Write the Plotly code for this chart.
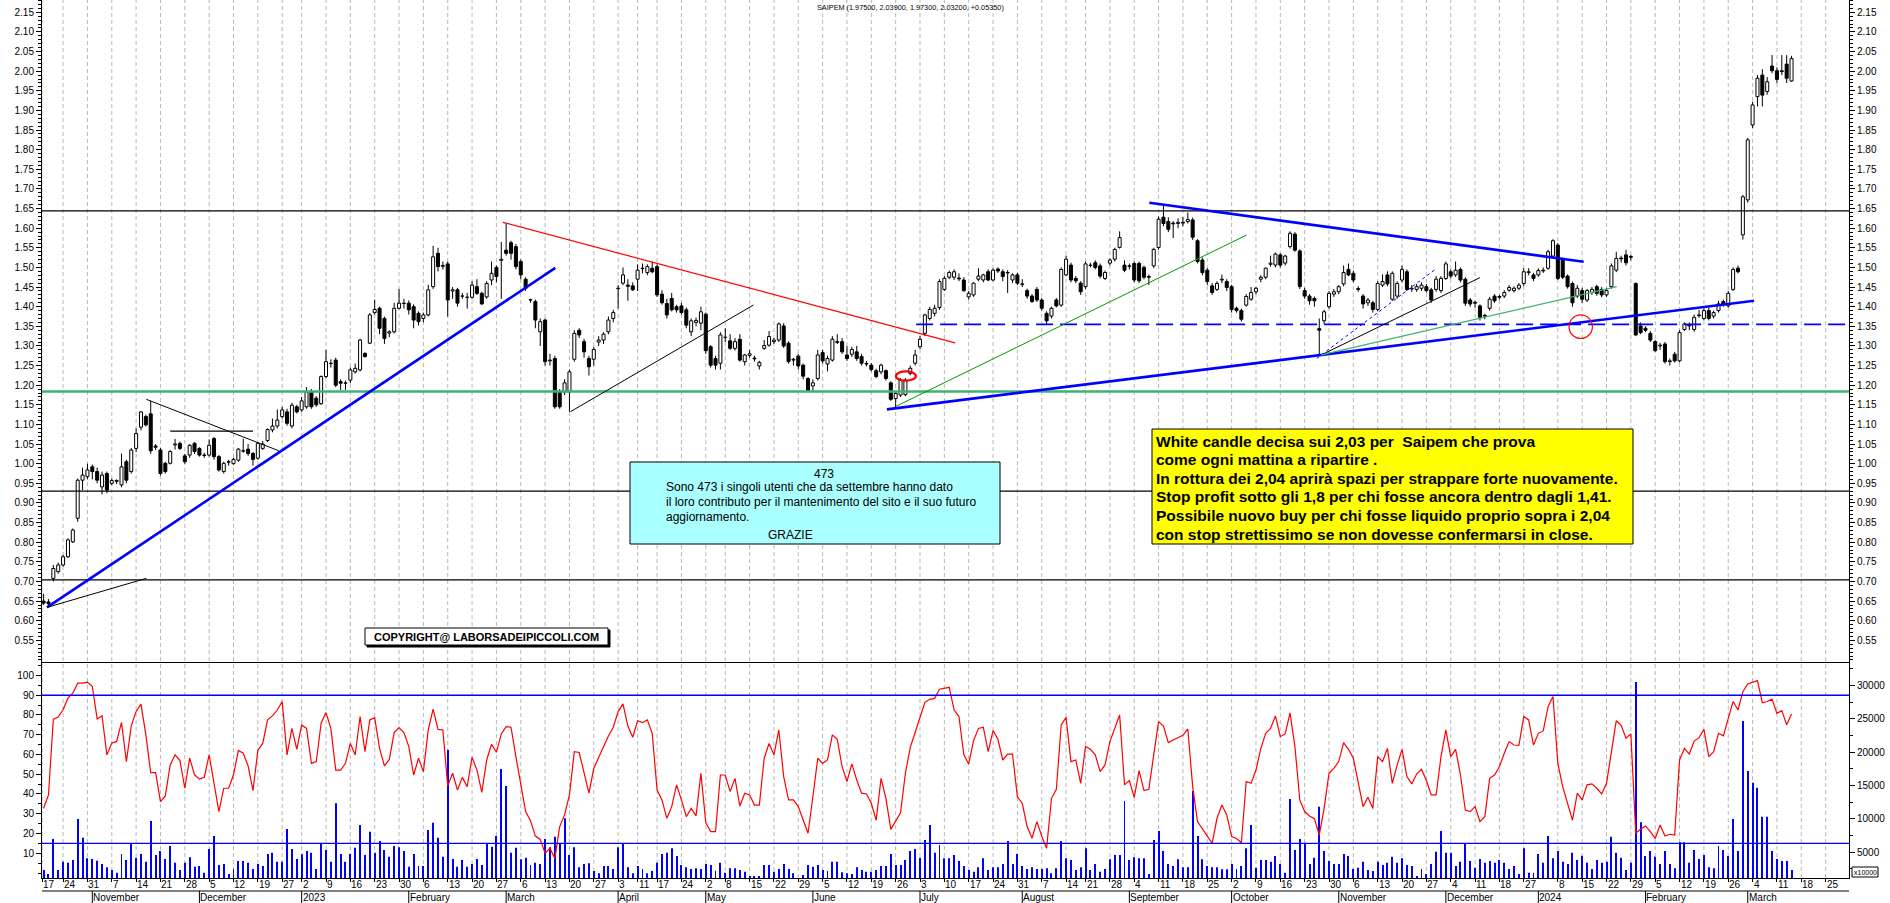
import pandas as pd
import plotly.graph_objects as go

TITLE = "SAIPEM (1.97500, 2.03900, 1.97300, 2.03200, +0.05350)"

OPEN = [
0.650,0.648,0.708,0.725,0.742,0.763,0.801,0.861,0.958,0.967,
0.992,0.980,0.941,0.975,0.950,0.957,0.946,1.005,0.980,1.039,
1.093,1.120,1.127,1.045,1.035,1.001,1.001,1.048,1.052,1.020,
1.022,1.052,1.039,1.022,1.022,1.064,1.018,0.980,1.005,1.000,
1.009,1.033,1.037,1.026,1.014,1.039,1.059,1.086,1.096,1.120,
1.132,1.096,1.145,1.137,1.145,1.183,1.167,1.153,1.222,1.255,
1.264,1.209,1.205,1.213,1.234,1.239,1.281,1.307,1.385,1.396,
1.370,1.333,1.336,1.396,1.409,1.409,1.400,1.383,1.370,1.379,
1.451,1.536,1.505,1.509,1.440,1.443,1.427,1.424,1.424,1.451,
1.434,1.425,1.468,1.500,1.518,1.544,1.563,1.553,1.515,1.470,
1.418,1.413,1.336,1.366,1.262,1.268,1.183,1.183,1.183,1.266,
1.340,1.311,1.268,1.266,1.310,1.315,1.336,1.370,1.446,1.460,
1.455,1.453,1.470,1.497,1.487,1.498,1.502,1.432,1.408,1.421,
1.400,1.402,1.392,1.336,1.360,1.358,1.381,1.298,1.268,1.256,
1.322,1.313,1.294,1.317,1.260,1.276,1.269,1.249,1.294,1.302,
1.311,1.315,1.351,1.307,1.266,1.274,1.251,1.217,1.198,1.217,
1.283,1.254,1.264,1.311,1.311,1.277,1.279,1.285,1.273,1.255,
1.251,1.237,1.234,1.237,1.206,1.166,1.175,1.176,1.230,1.256,
1.298,1.332,1.370,1.383,1.398,1.444,1.475,1.475,1.473,1.468,
1.425,1.430,1.470,1.468,1.489,1.468,1.496,1.489,1.487,1.468,
1.481,1.458,1.441,1.427,1.444,1.417,1.383,1.376,1.417,1.404,
1.481,1.506,1.472,1.460,1.451,1.505,1.512,1.504,1.472,1.511,
1.521,1.551,1.506,1.503,1.510,1.510,1.500,1.477,1.504,1.551,
1.628,1.617,1.613,1.612,1.613,1.617,1.621,1.568,1.519,1.493,
1.453,1.444,1.468,1.464,1.451,1.396,1.390,1.404,1.419,1.438,
1.470,1.475,1.508,1.506,1.532,1.511,1.553,1.585,1.542,1.441,
1.427,1.421,1.344,1.364,1.400,1.432,1.438,1.458,1.495,1.485,
1.446,1.427,1.410,1.410,1.393,1.455,1.481,1.419,1.427,1.468,
1.489,1.445,1.444,1.447,1.451,1.443,1.444,1.441,1.472,1.489,
1.481,1.495,1.470,1.417,1.411,1.402,1.378,1.396,1.427,1.426,
1.427,1.442,1.441,1.447,1.459,1.487,1.481,1.481,1.491,1.498,
1.529,1.557,1.519,1.478,1.459,1.427,1.441,1.417,1.436,1.451,
1.444,1.430,1.451,1.493,1.524,1.532,1.528,1.459,1.351,1.345,
1.332,1.311,1.300,1.305,1.262,1.279,1.262,1.342,1.351,1.342,
1.377,1.370,1.390,1.376,1.390,1.413,1.402,1.444,1.498,1.583,
1.672,1.863,1.935,1.990,1.948,2.013,2.001,2.001,2.018,1.975]

HIGH = [
0.668,0.655,0.742,0.748,0.768,0.810,0.835,0.962,0.990,1.000,
0.998,0.990,0.980,0.980,0.962,0.960,1.026,1.010,1.040,1.090,
1.134,1.125,1.160,1.050,1.040,1.005,1.035,1.063,1.056,1.025,
1.050,1.055,1.042,1.028,1.062,1.068,1.022,1.005,1.010,1.015,
1.040,1.064,1.050,1.030,1.055,1.058,1.090,1.115,1.138,1.145,
1.140,1.155,1.150,1.170,1.195,1.190,1.172,1.225,1.290,1.266,
1.270,1.215,1.212,1.245,1.255,1.318,1.284,1.384,1.418,1.400,
1.375,1.340,1.410,1.445,1.420,1.416,1.406,1.388,1.385,1.456,
1.555,1.550,1.515,1.515,1.450,1.448,1.435,1.435,1.465,1.470,
1.438,1.465,1.515,1.505,1.565,1.612,1.568,1.560,1.520,1.475,
1.420,1.418,1.370,1.370,1.280,1.275,1.190,1.215,1.240,1.340,
1.345,1.318,1.275,1.298,1.325,1.335,1.375,1.392,1.455,1.500,
1.470,1.462,1.508,1.510,1.508,1.515,1.508,1.442,1.420,1.435,
1.405,1.410,1.398,1.370,1.372,1.400,1.385,1.302,1.275,1.335,
1.345,1.330,1.320,1.330,1.280,1.290,1.275,1.262,1.315,1.338,
1.320,1.360,1.358,1.312,1.270,1.280,1.255,1.220,1.215,1.290,
1.290,1.275,1.325,1.330,1.320,1.300,1.298,1.300,1.280,1.262,
1.256,1.242,1.255,1.240,1.210,1.185,1.218,1.218,1.250,1.290,
1.325,1.382,1.400,1.405,1.470,1.478,1.492,1.495,1.485,1.475,
1.440,1.462,1.498,1.484,1.495,1.498,1.500,1.495,1.493,1.485,
1.486,1.470,1.446,1.432,1.450,1.422,1.388,1.400,1.422,1.500,
1.530,1.512,1.478,1.465,1.515,1.512,1.518,1.510,1.492,1.523,
1.550,1.592,1.518,1.510,1.515,1.515,1.505,1.482,1.550,1.630,
1.659,1.628,1.618,1.625,1.628,1.640,1.627,1.572,1.525,1.498,
1.460,1.465,1.482,1.470,1.456,1.400,1.395,1.432,1.450,1.450,
1.480,1.500,1.530,1.538,1.536,1.532,1.592,1.590,1.546,1.448,
1.432,1.426,1.370,1.392,1.440,1.445,1.455,1.505,1.510,1.492,
1.452,1.432,1.422,1.415,1.465,1.482,1.490,1.490,1.465,1.505,
1.495,1.455,1.458,1.462,1.458,1.448,1.478,1.478,1.515,1.495,
1.515,1.500,1.475,1.422,1.415,1.406,1.382,1.425,1.432,1.430,
1.442,1.455,1.452,1.460,1.498,1.498,1.486,1.498,1.500,1.545,
1.572,1.562,1.525,1.482,1.464,1.455,1.448,1.445,1.450,1.456,
1.450,1.448,1.510,1.540,1.530,1.545,1.532,1.462,1.360,1.350,
1.338,1.315,1.308,1.310,1.268,1.285,1.340,1.360,1.360,1.380,
1.392,1.395,1.398,1.390,1.415,1.418,1.440,1.500,1.505,1.685,
1.830,1.922,1.990,2.005,1.985,2.041,2.010,2.041,2.041,2.039]

LOW = [
0.640,0.637,0.700,0.720,0.738,0.760,0.798,0.852,0.932,0.960,
0.960,0.950,0.922,0.925,0.945,0.948,0.940,0.950,0.975,1.030,
1.085,1.095,1.025,1.035,0.970,0.975,0.998,1.036,1.035,1.000,
1.015,1.025,1.018,1.015,1.018,1.010,0.980,0.975,0.995,0.998,
1.005,1.028,1.020,0.995,1.010,1.035,1.055,1.080,1.090,1.115,
1.097,1.090,1.128,1.132,1.140,1.140,1.145,1.150,1.218,1.245,
1.195,1.188,1.188,1.205,1.230,1.235,1.270,1.305,1.380,1.330,
1.305,1.322,1.332,1.393,1.395,1.380,1.345,1.352,1.360,1.375,
1.445,1.490,1.495,1.375,1.420,1.400,1.420,1.395,1.420,1.430,
1.405,1.420,1.455,1.462,1.420,1.530,1.520,1.495,1.470,1.440,
1.410,1.345,1.300,1.250,1.250,1.140,1.140,1.175,1.132,1.260,
1.320,1.270,1.225,1.250,1.300,1.305,1.330,1.360,1.395,1.455,
1.415,1.440,1.440,1.485,1.480,1.485,1.425,1.405,1.370,1.388,
1.385,1.380,1.345,1.325,1.350,1.340,1.280,1.245,1.240,1.240,
1.310,1.290,1.288,1.260,1.250,1.270,1.260,1.240,1.290,1.298,
1.305,1.310,1.295,1.255,1.250,1.240,1.215,1.185,1.185,1.212,
1.255,1.235,1.260,1.305,1.280,1.262,1.272,1.262,1.250,1.248,
1.235,1.218,1.228,1.212,1.160,1.140,1.170,1.172,1.225,1.250,
1.292,1.325,1.365,1.375,1.392,1.440,1.470,1.468,1.465,1.438,
1.418,1.425,1.465,1.462,1.465,1.465,1.486,1.465,1.435,1.460,
1.455,1.450,1.420,1.410,1.412,1.390,1.355,1.370,1.398,1.400,
1.478,1.462,1.460,1.430,1.445,1.500,1.495,1.472,1.468,1.505,
1.515,1.548,1.488,1.495,1.462,1.460,1.470,1.455,1.498,1.545,
1.605,1.590,1.575,1.600,1.605,1.612,1.570,1.510,1.480,1.455,
1.430,1.440,1.460,1.440,1.385,1.385,1.362,1.400,1.415,1.432,
1.462,1.470,1.502,1.500,1.500,1.505,1.548,1.540,1.445,1.420,
1.405,1.400,1.277,1.355,1.395,1.425,1.432,1.452,1.478,1.462,
1.438,1.395,1.402,1.385,1.388,1.450,1.452,1.415,1.420,1.462,
1.440,1.438,1.438,1.440,1.436,1.410,1.438,1.435,1.468,1.472,
1.476,1.462,1.402,1.400,1.398,1.365,1.368,1.390,1.410,1.418,
1.422,1.438,1.436,1.442,1.452,1.480,1.465,1.476,1.486,1.494,
1.525,1.468,1.470,1.446,1.400,1.422,1.410,1.412,1.430,1.428,
1.424,1.425,1.446,1.488,1.512,1.505,1.518,1.325,1.330,1.335,
1.310,1.285,1.290,1.255,1.250,1.258,1.258,1.338,1.340,1.336,
1.372,1.365,1.365,1.370,1.385,1.400,1.398,1.440,1.485,1.571,
1.665,1.855,1.910,1.910,1.940,1.995,1.970,1.990,1.970,1.973]

CLOSE = [
0.645,0.643,0.733,0.742,0.763,0.806,0.831,0.958,0.971,0.984,
0.980,0.958,0.971,0.933,0.957,0.955,0.992,0.958,1.035,1.077,
1.132,1.099,1.033,1.042,0.975,0.980,1.031,1.050,1.039,1.005,
1.047,1.031,1.022,1.021,1.047,1.018,0.984,1.001,1.004,1.011,
1.037,1.032,1.026,1.011,1.052,1.050,1.087,1.096,1.111,1.137,
1.103,1.149,1.132,1.160,1.183,1.145,1.150,1.222,1.260,1.256,
1.200,1.205,1.206,1.239,1.243,1.315,1.273,1.379,1.393,1.345,
1.319,1.336,1.396,1.409,1.408,1.392,1.366,1.362,1.379,1.443,
1.527,1.502,1.503,1.417,1.443,1.409,1.427,1.424,1.455,1.434,
1.407,1.459,1.485,1.477,1.521,1.536,1.536,1.502,1.481,1.447,
1.417,1.366,1.362,1.260,1.264,1.145,1.145,1.206,1.234,1.332,
1.328,1.285,1.247,1.291,1.315,1.330,1.366,1.385,1.447,1.481,
1.452,1.443,1.493,1.498,1.502,1.489,1.430,1.410,1.379,1.392,
1.392,1.385,1.353,1.364,1.365,1.387,1.288,1.251,1.251,1.328,
1.322,1.294,1.311,1.264,1.277,1.280,1.267,1.258,1.301,1.324,
1.315,1.356,1.300,1.260,1.264,1.249,1.223,1.186,1.206,1.277,
1.262,1.268,1.317,1.309,1.285,1.268,1.291,1.268,1.256,1.254,
1.240,1.222,1.251,1.217,1.164,1.179,1.213,1.213,1.243,1.277,
1.317,1.379,1.393,1.396,1.464,1.472,1.487,1.489,1.471,1.441,
1.434,1.460,1.478,1.481,1.468,1.493,1.491,1.477,1.486,1.481,
1.460,1.457,1.427,1.413,1.417,1.396,1.364,1.396,1.402,1.495,
1.521,1.468,1.466,1.438,1.509,1.506,1.500,1.478,1.487,1.519,
1.546,1.576,1.493,1.504,1.468,1.466,1.475,1.475,1.546,1.623,
1.612,1.597,1.611,1.615,1.615,1.622,1.577,1.515,1.487,1.464,
1.436,1.459,1.470,1.449,1.393,1.390,1.368,1.426,1.436,1.447,
1.475,1.498,1.511,1.534,1.506,1.529,1.587,1.544,1.451,1.427,
1.415,1.415,1.340,1.387,1.434,1.438,1.451,1.487,1.481,1.468,
1.444,1.407,1.417,1.393,1.459,1.464,1.458,1.485,1.459,1.495,
1.444,1.447,1.451,1.455,1.441,1.417,1.470,1.472,1.509,1.478,
1.493,1.468,1.409,1.407,1.409,1.373,1.376,1.419,1.415,1.424,
1.436,1.449,1.447,1.455,1.489,1.489,1.472,1.492,1.493,1.540,
1.568,1.472,1.475,1.451,1.410,1.447,1.419,1.441,1.444,1.434,
1.430,1.441,1.504,1.523,1.522,1.512,1.526,1.328,1.334,1.340,
1.315,1.288,1.302,1.260,1.260,1.262,1.334,1.356,1.353,1.373,
1.379,1.390,1.370,1.385,1.407,1.407,1.434,1.495,1.489,1.680,
1.825,1.914,1.982,1.939,1.973,2.001,1.979,1.999,1.982,2.032]

OSC = [
32.8,39.5,77.9,78.9,82.6,88.5,91.0,96.1,96.1,96.6,
94.4,78.0,79.6,59.8,65.7,66.6,76.2,56.4,74.5,81.8,
85.5,69.9,50.8,50.8,36.1,39.0,54.7,59.8,56.9,42.9,
58.1,49.7,47.5,48.5,59.8,46.3,31.1,42.9,42.9,49.7,
62.0,60.6,54.2,41.7,62.0,65.6,77.5,79.5,82.5,86.8,
59.8,73.2,62.6,74.9,73.2,55.5,56.4,75.8,81.2,73.2,
52.1,52.1,55.5,65.6,59.8,79.2,61.4,77.5,78.6,63.1,
54.2,57.5,71.1,73.6,71.1,64.0,49.6,58.1,51.3,72.4,
82.9,72.7,72.4,44.1,50.5,42.0,48.4,43.7,58.6,52.1,
40.8,57.2,65.2,61.1,70.4,74.1,73.8,58.9,45.7,31.1,
26.5,18.7,17.0,10.0,12.5,7.4,23.5,29.4,39.5,61.4,
61.0,51.3,40.4,53.0,58.6,63.6,69.4,73.8,81.7,85.6,
74.4,68.7,77.1,76.1,77.5,70.7,42.0,37.0,27.7,33.6,
44.6,37.0,28.5,32.7,28.9,50.5,25.5,20.9,20.9,49.6,
49.6,41.2,47.9,33.9,40.4,39.5,34.4,34.4,58.1,65.6,
59.8,72.4,48.8,37.0,37.0,33.6,27.2,20.1,38.6,58.1,
55.5,57.2,69.9,67.7,53.8,46.3,55.2,47.1,40.4,40.0,
35.3,26.8,47.9,37.8,22.1,26.0,30.5,50.5,63.6,71.1,
78.8,86.4,87.9,88.4,93.0,93.5,94.0,82.5,79.2,59.8,
55.2,67.0,73.2,73.8,61.4,72.1,67.7,57.2,60.2,60.2,
38.6,35.3,23.5,17.6,26.0,18.7,12.5,37.8,42.4,74.9,
78.8,56.4,57.2,45.4,64.0,62.6,59.8,51.3,54.7,66.5,
73.2,80.0,44.6,46.8,38.3,51.8,41.7,42.4,59.8,76.6,
74.4,66.0,67.3,68.7,69.7,72.9,43.7,26.0,22.1,18.7,
15.0,27.7,34.4,29.4,18.4,17.5,15.3,46.3,45.4,52.1,
63.1,70.7,73.2,79.5,69.0,70.4,81.0,64.0,37.0,31.1,
28.9,27.5,19.2,32.7,50.5,53.0,56.4,66.0,62.6,58.1,
45.4,33.6,38.3,32.7,58.9,56.4,63.1,45.4,54.7,62.6,
48.8,45.1,50.1,52.5,46.8,39.5,39.5,58.9,72.4,58.9,
62.6,49.6,31.9,31.1,33.6,26.0,28.5,47.9,49.6,53.8,
60.6,66.5,64.8,64.6,79.2,77.5,64.8,70.7,71.9,84.2,
89.3,55.5,43.7,35.3,26.8,40.4,37.0,44.6,45.1,42.9,
40.0,45.4,61.4,77.1,74.8,68.2,70.4,20.1,22.1,23.8,
20.9,17.5,24.3,18.7,19.6,19.2,57.2,63.1,60.2,66.8,
68.5,72.7,58.9,61.4,70.7,69.4,78.3,86.8,82.5,91.8,
95.7,96.7,97.4,86.2,86.8,88.0,80.8,82.2,75.0,80.5]

VOLUME = [
2345,1745,6995,2345,3595,3445,3845,9995,7195,4095,
3995,3745,3245,2745,2345,1945,4745,3845,6345,4195,
4745,3595,9695,4595,5195,3995,5945,3445,2345,3445,
4245,2845,2945,1945,5495,7445,3095,3245,1745,2495,
3695,3695,3445,2495,3245,2945,4745,4945,3595,3595,
8495,5495,3995,4695,5195,4945,2495,6345,5345,3595,
12345,4745,3595,4745,5695,9095,4595,8095,4945,6695,
5345,4345,5945,5745,5195,2845,4745,2945,2945,8345,
9445,7195,4345,20345,3995,2845,3845,2845,3245,3995,
3095,6345,5845,7445,17495,14945,4945,5695,3945,4195,
3095,3445,3245,7000,5745,7345,6345,10095,4595,5745,
2745,3245,3345,2195,1845,2945,2945,2495,5745,6345,
2745,1845,2945,2495,1845,2195,3445,4745,4945,5595,
4445,3095,2745,2495,2595,2495,3245,3095,2245,3445,
1945,2595,2595,2345,2095,1445,1445,1445,3095,3095,
2095,2495,3245,2495,1845,845,1595,3095,2845,3095,
2345,2195,3595,3595,1995,1845,1745,2745,2345,2095,
2095,2345,2945,2945,4745,3095,3095,3845,5195,5495,
4195,6845,9095,4945,6095,4095,4095,4595,3695,2945,
2345,2095,2745,4095,2345,2745,2745,3245,6695,3245,
4745,2945,2495,2745,2495,2495,2595,1845,2595,6695,
4095,3845,2345,2745,5595,2345,3245,2095,2495,3945,
4595,4595,12695,3845,4245,4095,4095,1745,6845,8195,
5195,3245,2945,3945,2745,2745,14195,7445,3945,2945,
2745,2745,2445,2445,3245,2495,2945,5595,9095,2695,
3845,3845,3595,4445,3245,1945,12995,5345,6995,6345,
3245,4195,11845,5195,3695,3245,3245,4745,4445,2495,
2695,3595,2345,2195,3595,3095,3445,4345,3445,4095,
3095,2945,1445,2495,1745,3245,5095,8195,4945,4945,
2945,3595,6345,3695,2695,3995,3445,3695,3445,3845,
3445,2495,2945,1745,5595,1945,1945,4745,3445,7445,
4095,5195,3595,3245,4945,3845,4495,3445,2495,3845,
3445,3595,7345,4945,4195,2345,3445,30545,9495,4445,
5195,4345,3245,5195,3245,2595,6495,6495,3445,5345,
3995,4595,2745,2595,5945,5345,4445,9995,5195,24695,
17195,15445,14695,10345,10345,5195,3995,3695,3695,2345]

# calendar (Borsa Italiana closing days); the axis is indexed by trading day
HOLIDAYS = ["2022-12-26", "2023-04-07", "2023-04-10", "2023-05-01", "2023-08-15",
            "2023-12-25", "2023-12-26", "2024-01-01", "2024-03-29"]
CAL_START, CAL_END = "2022-10-17", "2024-03-28"

PRICE_LEVELS = [(1.644, "#000000", 1.2), (1.184, "#3CB371", 2.4), (0.930, "#000000", 1.2), (0.704, "#000000", 1.2)]
OSC_LEVELS = [90, 15]
# drawn trendlines: x0, y0, x1, y1, colour, width, dash
TRENDLINES = [
    (0.7, 0.634, 105.1, 1.499, "#0000FF", 2.6, "solid"),
    (0.7, 0.634, 21.1, 0.708, "#000000", 1, "solid"),
    (21.1, 1.164, 48.3, 1.033, "#000000", 1, "solid"),
    (26.0, 1.083, 43.0, 1.083, "#000000", 1.3, "solid"),
    (94.3, 1.615, 187.2, 1.308, "#FF0000", 1.2, "solid"),
    (108.2, 1.1325, 145.8, 1.4043, "#000000", 1, "solid"),
    (173.2, 1.1385, 351.3, 1.4153, "#0000FF", 2.6, "solid"),
    (175.2, 1.147, 247.1, 1.5827, "#009900", 1, "solid"),
    (227.1, 1.665, 316.3, 1.5146, "#0000FF", 2.6, "solid"),
    (261.5, 1.2684, 286.1, 1.4977, "#0000FF", 1, "dot"),
    (262.4, 1.277, 295.0, 1.474, "#000000", 1, "solid"),
    (262.4, 1.277, 323.1, 1.451, "#3CB371", 1.3, "solid"),
]
SUPPORT_DASHED = (179.2, 1.355)

CYAN_LINES = ["Sono 473 i singoli utenti che da settembre hanno dato",
              "il loro contributo per il mantenimento del sito e il suo futuro",
              "aggiornamento."]
YELLOW_LINES = ["White candle decisa sui 2,03 per  Saipem che prova",
                "come ogni mattina a ripartire .",
                "In rottura dei 2,04 aprirà spazi per strappare forte nuovamente.",
                "Stop profit sotto gli 1,8 per chi fosse ancora dentro dagli 1,41.",
                "Possibile nuovo buy per chi fosse liquido proprio sopra i 2,04",
                "con stop strettissimo se non dovesse confermarsi in close."]

# ---------------- geometry ----------------
W, H = 1890, 903
ML, MR, MT, MB = 42, 41, 0, 25
PW, PH = W - ML - MR, H - MT - MB
X0, X1 = -0.33, 370.8
P0, P1 = 0.4923, 2.1813
O0, O1 = -2.53, 106.3
V0, V1 = 1145, 33395
SPLIT = (878 - 663) / 878
FONT = "Liberation Sans"


def pxx(px):
    return (px - ML) / PW


def pxy(py):
    return (MT + PH - py) / PH


days = [d for d in pd.bdate_range(CAL_START, CAL_END) if d.strftime("%Y-%m-%d") not in HOLIDAYS]
pos = {d: k - 1 for k, d in enumerate(days)}
X = list(range(len(CLOSE)))

ticks, tlabels, weeks = [], [], set()
for d in days:
    wk = tuple(d.isocalendar())[:2]
    if wk in weeks:
        continue
    weeks.add(wk)
    p = pos[d]
    if ticks and p - ticks[-1] < 4:
        continue
    ticks.append(p)
    tlabels.append(str(d.day))
ticks[0] = max(ticks[0], X0)

month_pos, month_txt, prev = [], [], None
for d in days:
    key = (d.year, d.month)
    if key != prev:
        prev = key
        if pos[d] >= 0:
            month_pos.append(pos[d])
            month_txt.append(str(d.year) if d.month == 1 else d.strftime("%B"))

# ---------------- traces ----------------
wx, wy = [], []
for i in X:
    lo_b, hi_b = min(OPEN[i], CLOSE[i]), max(OPEN[i], CLOSE[i])
    wx += [i, i, None, i, i, None]
    wy += [LOW[i], lo_b, None, hi_b, HIGH[i], None]

up = [i for i in X if CLOSE[i] >= OPEN[i]]
dn = [i for i in X if CLOSE[i] < OPEN[i]]

fig = go.Figure()
fig.add_trace(go.Scatter(x=wx, y=wy, mode="lines", line=dict(color="black", width=1),
                         hoverinfo="skip", xaxis="x", yaxis="y"))
for idx, col in ((up, "white"), (dn, "black")):
    fig.add_trace(go.Bar(x=idx, y=[abs(CLOSE[i] - OPEN[i]) for i in idx],
                         base=[min(OPEN[i], CLOSE[i]) for i in idx], width=0.62,
                         marker=dict(color=col, line=dict(color="black", width=1)),
                         xaxis="x", yaxis="y", hoverinfo="skip"))
fig.add_trace(go.Scatter(x=[X0], y=[P0], mode="markers", marker=dict(opacity=0),
                         xaxis="x", yaxis="y2", hoverinfo="skip"))
fig.add_trace(go.Bar(x=X, y=VOLUME, width=0.2, marker=dict(color="#0000FF", line=dict(width=0)),
                     xaxis="x2", yaxis="y3", hoverinfo="skip"))
fig.add_trace(go.Scatter(x=X, y=OSC, mode="lines", line=dict(color="#FF0000", width=1.2),
                         xaxis="x2", yaxis="y4", hoverinfo="skip"))

# ---------------- shapes ----------------
shapes = []
for t in ticks:
    shapes.append(dict(type="line", xref="x", yref="paper", x0=t, x1=t, y0=0, y1=1,
                       line=dict(color="#B8B8B8", width=1, dash="4px,3px"), layer="below"))
for lvl, col, w in PRICE_LEVELS:
    shapes.append(dict(type="line", xref="paper", yref="y", x0=0, x1=1, y0=lvl, y1=lvl,
                       line=dict(color=col, width=w), layer="above"))
shapes.append(dict(type="line", xref="x", yref="y", x0=SUPPORT_DASHED[0], x1=X1,
                   y0=SUPPORT_DASHED[1], y1=SUPPORT_DASHED[1],
                   line=dict(color="#0000FF", width=1.6, dash="17px,7px"), layer="above"))
for x0, y0, x1, y1, col, w, dash in TRENDLINES:
    shapes.append(dict(type="line", xref="x", yref="y", x0=x0, y0=y0, x1=x1, y1=y1,
                       line=dict(color=col, width=w, dash=dash), layer="above"))
shapes.append(dict(type="circle", xref="x", yref="y", x0=313.3, x1=318.1, y0=1.319, y1=1.379,
                   line=dict(color="#FF0000", width=1.2), layer="above"))
shapes.append(dict(type="circle", xref="x", yref="y", x0=175.05, x1=179.15, y0=1.2114, y1=1.2354,
                   line=dict(color="#FF0000", width=2.2), layer="above"))
for lvl in OSC_LEVELS:
    shapes.append(dict(type="line", xref="paper", yref="y4", x0=0, x1=1, y0=lvl, y1=lvl,
                       line=dict(color="#0000FF", width=1.4), layer="above"))
# date axis frame
shapes.append(dict(type="line", xref="paper", yref="paper", x0=0, x1=1, y0=pxy(891), y1=pxy(891),
                   line=dict(color="black", width=1)))
for mp in month_pos:
    shapes.append(dict(type="line", xref="x", yref="paper", x0=mp, x1=mp, y0=pxy(891), y1=pxy(903),
                       line=dict(color="black", width=1)))
# text boxes
shapes.append(dict(type="rect", xref="paper", yref="paper", x0=pxx(630), x1=pxx(1000),
                   y0=pxy(462), y1=pxy(544), fillcolor="#AAFFFF", line=dict(color="black", width=1), layer="above"))
shapes.append(dict(type="rect", xref="paper", yref="paper", x0=pxx(1152), x1=pxx(1633),
                   y0=pxy(429), y1=pxy(544), fillcolor="#FFFF00", line=dict(color="black", width=1), layer="above"))
shapes.append(dict(type="rect", xref="paper", yref="paper", x0=pxx(367), x1=pxx(610),
                   y0=pxy(630), y1=pxy(647), fillcolor="black", line=dict(color="black", width=1), layer="above"))
shapes.append(dict(type="rect", xref="paper", yref="paper", x0=pxx(365), x1=pxx(608),
                   y0=pxy(628), y1=pxy(645), fillcolor="white", line=dict(color="black", width=1), layer="above"))
shapes.append(dict(type="rect", xref="paper", yref="paper", x0=pxx(1852), x1=pxx(1878),
                   y0=pxy(867), y1=pxy(877), fillcolor="white", line=dict(color="black", width=1), layer="above"))

# ---------------- annotations ----------------
ann = []


def text(s, px, py, size, anchor="left", bold=False, color="black"):
    ann.append(dict(text=("<b>%s</b>" % s) if bold else s, xref="paper", yref="paper",
                    x=pxx(px), y=pxy(py), xanchor=anchor, yanchor="middle", showarrow=False,
                    borderpad=0, font=dict(family=FONT, size=size, color=color)))


text(TITLE, 910, 8, 7.3, "center")
text("473", 824, 474, 12, "center")
for k, s in enumerate(CYAN_LINES):
    text(s, 665, 487.5 + 14.5 * k, 12)
text("GRAZIE", 790, 535, 12, "center")
for k, s in enumerate(YELLOW_LINES):
    text(s, 1155, 441 + 18.6 * k, 15.5, bold=True)
text("COPYRIGHT@ LABORSADEIPICCOLI.COM", 486.5, 637, 11, "center", bold=True)
text("x10000", 1865, 872, 7, "center")
for t, lab in zip(ticks, tlabels):
    ann.append(dict(text=lab, xref="x", yref="paper", x=t, y=pxy(884.5), xanchor="left",
                    yanchor="middle", xshift=0, showarrow=False, borderpad=0,
                    font=dict(family=FONT, size=10, color="black")))
for mp, mt in zip(month_pos, month_txt):
    ann.append(dict(text=mt, xref="x", yref="paper", x=mp, y=pxy(897.5), xanchor="left",
                    yanchor="middle", xshift=0, showarrow=False, borderpad=0,
                    font=dict(family=FONT, size=10, color="black")))

# ---------------- layout ----------------
tickfont = dict(family=FONT, size=10, color="black")
price_ticks = [round(0.55 + 0.05 * k, 2) for k in range(33)]
yprice = dict(range=[P0, P1], tickvals=price_ticks, tickformat=".2f", ticks="outside", ticklen=5,
              tickcolor="black", showline=True, linecolor="black", linewidth=1, showgrid=False,
              zeroline=False, tickfont=tickfont, automargin=False,
              minor=dict(ticks="outside", ticklen=3, dtick=0.01, tick0=0, tickcolor="black", showgrid=False))

fig.update_layout(
    width=W, height=H, margin=dict(l=ML, r=MR, t=MT, b=MB, autoexpand=False),
    paper_bgcolor="white", plot_bgcolor="white", showlegend=False, barmode="overlay",
    xaxis=dict(domain=[0, 1], anchor="y", range=[X0, X1], showticklabels=False, ticks="",
               showline=False, showgrid=False, zeroline=False, automargin=False),
    xaxis2=dict(domain=[0, 1], anchor="y3", matches="x", range=[X0, X1], tickvals=ticks,
                showticklabels=False, ticks="outside", ticklen=3, tickcolor="black",
                showline=True, mirror=True, linecolor="black", linewidth=1,
                showgrid=False, zeroline=False, automargin=False),
    yaxis=dict(domain=[SPLIT, 1], anchor="x", side="left", **yprice),
    yaxis2=dict(overlaying="y", matches="y", anchor="x", side="right", **yprice),
    yaxis3=dict(domain=[0, SPLIT], anchor="x2", side="right", range=[V0, V1],
                tickvals=[5000, 10000, 15000, 20000, 25000, 30000], tickformat="d", ticks="outside",
                ticklen=5, tickcolor="black", showline=True, linecolor="black", showgrid=False,
                zeroline=False, tickfont=tickfont, automargin=False,
                minor=dict(ticks="outside", ticklen=3, dtick=2500, tick0=0, tickcolor="black", showgrid=False)),
    yaxis4=dict(overlaying="y3", anchor="x2", side="left", range=[O0, O1],
                tickvals=list(range(10, 101, 10)), ticks="outside", ticklen=5, tickcolor="black",
                showline=True, linecolor="black", showgrid=False, zeroline=False, tickfont=tickfont,
                automargin=False,
                minor=dict(ticks="outside", ticklen=3, dtick=5, tick0=0, tickcolor="black", showgrid=False)),
    shapes=shapes, annotations=ann,
)

fig.write_html("out.html", config={"displayModeBar": False})
# the page body must not add its default 8px margin around the figure
with open("out.html", encoding="utf-8") as f:
    page = f.read()
page = page.replace("</head>", "<style>html,body{margin:0;padding:0;overflow:hidden;}</style></head>", 1)
with open("out.html", "w", encoding="utf-8") as f:
    f.write(page)
